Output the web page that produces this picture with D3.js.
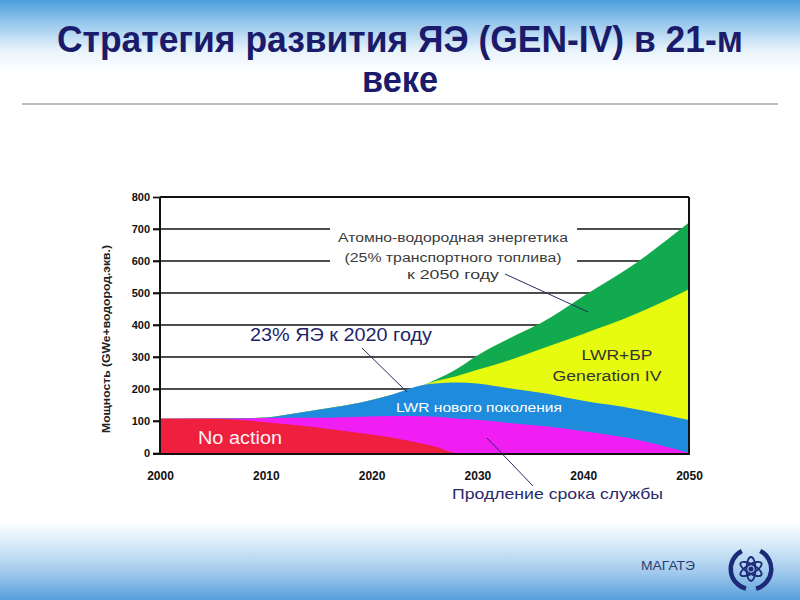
<!DOCTYPE html>
<html><head><meta charset="utf-8">
<script src="https://cdn.jsdelivr.net/npm/d3@7"></script>
<style>html,body{margin:0;padding:0;background:#fff;} svg{display:block}</style>
</head><body><svg id="c" width="800" height="600"></svg>
<script>
// ---- data ----
const years         = [2000,2005,2008,2010,2013,2016,2019,2022,2025,2026,2028,2030,2033,2036,2040,2045,2050];
const noAction      = [107,107,102,96,87,75,62,48,28,20,0,0,0,0,0,0,0];
const lifeExtension = [0,1,6,13,23,35,51,68,87,93,108,104,94,85,68,42,0];
const lwrNew        = [0,0,1,2,15,31,45,67,98,104,112,113,108,103,95,95,103];
const lwrFastGen4   = [0,0,0,0,0,0,0,0,0,7,20,43,88,137,209,298,409];
const hydrogen      = [0,0,0,0,0,0,0,0,0,4,22,45,68,81,118,159,208];
const seriesKeys    = ["noAction","lifeExtension","lwrNew","lwrFastGen4","hydrogen"];
const yTicks        = [0,100,200,300,400,500,600,700,800];
const xTicks        = [2000,2010,2020,2030,2040,2050];
const titleLine1    = "Стратегия развития ЯЭ (GEN-IV) в 21-м";
const titleLine2    = "веке";
const yAxisTitle    = "Мощность (GWe+водород.экв.)";

const colors = {noAction:"#ef1f3e", lifeExtension:"#f01ef2", lwrNew:"#1f8bdc", lwrFastGen4:"#e6fb0e", hydrogen:"#12aa4f"};

const svg = d3.select("#c");
const defs = svg.append("defs");
const gTop = defs.append("linearGradient").attr("id","gTop").attr("x1",0).attr("x2",0).attr("y1",0).attr("y2",1);
gTop.append("stop").attr("offset","0").attr("stop-color","#4b9fdc");
gTop.append("stop").attr("offset","0.35").attr("stop-color","#9dcbee");
gTop.append("stop").attr("offset","0.7").attr("stop-color","#e8f3fb");
gTop.append("stop").attr("offset","1").attr("stop-color","#ffffff");
const gBot = defs.append("linearGradient").attr("id","gBot").attr("x1",0).attr("x2",0).attr("y1",0).attr("y2",1);
gBot.append("stop").attr("offset","0").attr("stop-color","#ffffff");
gBot.append("stop").attr("offset","0.3").attr("stop-color","#d6e9f8");
gBot.append("stop").attr("offset","0.65").attr("stop-color","#a0c9ec");
gBot.append("stop").attr("offset","1").attr("stop-color","#559fdc");

svg.append("rect").attr("width",800).attr("height",600).attr("fill","#fff");
svg.append("rect").attr("x",0).attr("y",0).attr("width",800).attr("height",72).attr("fill","url(#gTop)");
svg.append("rect").attr("x",0).attr("y",522).attr("width",800).attr("height",78).attr("fill","url(#gBot)");

// title
const ff = "'Liberation Sans',Arial,sans-serif";
svg.append("text").attr("x",400).attr("y",52).attr("text-anchor","middle")
  .attr("font-family",ff).attr("font-weight","bold").attr("font-size",36).attr("fill","#1b1b6b")
  .attr("textLength",686).attr("lengthAdjust","spacingAndGlyphs").text(titleLine1);
svg.append("text").attr("x",400).attr("y",92).attr("text-anchor","middle")
  .attr("font-family",ff).attr("font-weight","bold").attr("font-size",36).attr("fill","#1b1b6b")
  .attr("textLength",76).attr("lengthAdjust","spacingAndGlyphs").text(titleLine2);
svg.append("line").attr("x1",22).attr("x2",778).attr("y1",104).attr("y2",104)
  .attr("stroke","#a8a8a8").attr("stroke-width",1.6);

// scales
const x = d3.scaleLinear().domain([2000,2050]).range([160,689]);
const y = d3.scaleLinear().domain([0,800]).range([453,197]);

// gridlines
svg.append("g").selectAll("line").data(yTicks.filter(v=>v>0 && v<800)).join("line")
  .attr("x1",153).attr("x2",x(2050)).attr("y1",d=>y(d)).attr("y2",d=>y(d))
  .attr("stroke","#111").attr("stroke-width",1.7);
// white box behind the hydrogen annotation
svg.append("rect").attr("x",330).attr("y",218).attr("width",247).attr("height",64).attr("fill","#fff");

// stacked areas
const table = years.map((yr,i)=>({year:yr, noAction:noAction[i], lifeExtension:lifeExtension[i],
  lwrNew:lwrNew[i], lwrFastGen4:lwrFastGen4[i], hydrogen:hydrogen[i]}));
const stacked = d3.stack().keys(seriesKeys)(table);
const area = d3.area().x(d=>x(d.data.year)).y0(y(0)).y1(d=>y(d[1])).curve(d3.curveMonotoneX);
svg.append("g").selectAll("path").data(stacked.slice().reverse()).join("path")
  .attr("d",area).attr("fill",d=>colors[d.key]);

// axes
const yAxis = d3.axisLeft(y).tickValues(yTicks).tickSize(7).tickPadding(3);
const gy = svg.append("g").attr("transform",`translate(160,0)`).call(yAxis);
gy.select(".domain").remove();
gy.selectAll("line").attr("stroke","#111").attr("stroke-width",1.7);
gy.selectAll("text").attr("font-family",ff).attr("font-weight","bold").attr("font-size",11).attr("fill","#111");

const xAxis = d3.axisBottom(x).tickValues(xTicks).tickFormat(d3.format("d")).tickSize(0).tickPadding(18);
const gx = svg.append("g").attr("transform",`translate(0,${y(0)})`).call(xAxis);
gx.select(".domain").remove();
gx.selectAll("text").attr("font-family",ff).attr("font-weight","bold").attr("font-size",12).attr("fill","#111");

// frame
const fr = svg.append("g").attr("stroke","#111").attr("stroke-width",2).attr("fill","none");
fr.append("line").attr("x1",160).attr("x2",160).attr("y1",y(800)).attr("y2",y(0)+2);
fr.append("line").attr("x1",160).attr("x2",x(2050)).attr("y1",y(800)).attr("y2",y(800));
fr.append("line").attr("x1",x(2050)).attr("x2",x(2050)).attr("y1",y(800)).attr("y2",y(0)+2);
fr.append("line").attr("x1",153).attr("x2",x(2050)).attr("y1",y(0)+1).attr("y2",y(0)+1);

// y axis title
svg.append("text").attr("transform","translate(110,339) rotate(-90)").attr("text-anchor","middle")
  .attr("font-family",ff).attr("font-weight","bold").attr("font-size",10.5).attr("fill","#222")
  .attr("textLength",188).attr("lengthAdjust","spacingAndGlyphs").text(yAxisTitle);

// annotations
const ann = svg.append("g").attr("font-family",ff);
[["Атомно-водородная энергетика",242,230],["(25% транспортного топлива)",262,217],["к 2050 году",279,92]]
  .forEach(([t,yy,w])=>ann.append("text").attr("x",453).attr("y",yy).attr("text-anchor","middle")
    .attr("font-size",12.5).attr("fill","#3a3a3a").attr("textLength",w).attr("lengthAdjust","spacingAndGlyphs").text(t));
ann.append("line").attr("x1",505).attr("y1",274).attr("x2",588).attr("y2",312).attr("stroke","#2a2a5a").attr("stroke-width",1);

ann.append("text").attr("x",250).attr("y",341).attr("font-size",18).attr("fill","#1c2566")
  .attr("textLength",182).attr("lengthAdjust","spacingAndGlyphs").text("23% ЯЭ к 2020 году");
ann.append("line").attr("x1",362).attr("y1",348).attr("x2",407).attr("y2",392).attr("stroke","#2a2a5a").attr("stroke-width",1);

ann.append("text").attr("x",617).attr("y",360).attr("text-anchor","middle").attr("font-size",15.5).attr("fill","#333")
  .attr("textLength",71).attr("lengthAdjust","spacingAndGlyphs").text("LWR+БР");
ann.append("text").attr("x",607).attr("y",381).attr("text-anchor","middle").attr("font-size",15.5).attr("fill","#333")
  .attr("textLength",109).attr("lengthAdjust","spacingAndGlyphs").text("Generation IV");

ann.append("text").attr("x",479).attr("y",412).attr("text-anchor","middle").attr("font-size",13).attr("fill","#fff")
  .attr("textLength",166).attr("lengthAdjust","spacingAndGlyphs").text("LWR нового поколения");

ann.append("text").attr("x",198).attr("y",444).attr("font-size",17.5).attr("fill","#fff2f4")
  .attr("textLength",84).attr("lengthAdjust","spacingAndGlyphs").text("No action");

ann.append("text").attr("x",452).attr("y",499).attr("font-size",15).attr("fill","#2a2a6a")
  .attr("textLength",211).attr("lengthAdjust","spacingAndGlyphs").text("Продление срока службы");
ann.append("line").attr("x1",487).attr("y1",438).attr("x2",533).attr("y2",486).attr("stroke","#2a2a5a").attr("stroke-width",1);

// footer
svg.append("text").attr("x",641).attr("y",570).attr("font-family",ff).attr("font-size",12).attr("fill","#2c3e6e")
  .attr("textLength",54).attr("lengthAdjust","spacingAndGlyphs").text("МАГАТЭ");
const logo = svg.append("g").attr("transform","translate(751,569)").attr("fill","none").attr("stroke","#1d2a78");
[0,60,-60].forEach(a=>logo.append("ellipse").attr("rx",4.5).attr("ry",12).attr("transform",`rotate(${a})`).attr("stroke-width",1.8));
logo.append("circle").attr("r",2.5).attr("fill","#1d2a78").attr("stroke","none");
const arcL = d3.arc().innerRadius(18).outerRadius(22.5);
logo.append("path").attr("d",arcL({startAngle:-Math.PI*0.92,endAngle:-Math.PI*0.15})).attr("fill","#1d2a78").attr("stroke","none");
logo.append("path").attr("d",arcL({startAngle:Math.PI*0.15,endAngle:Math.PI*0.92})).attr("fill","#1d2a78").attr("stroke","none");
</script></body></html>
